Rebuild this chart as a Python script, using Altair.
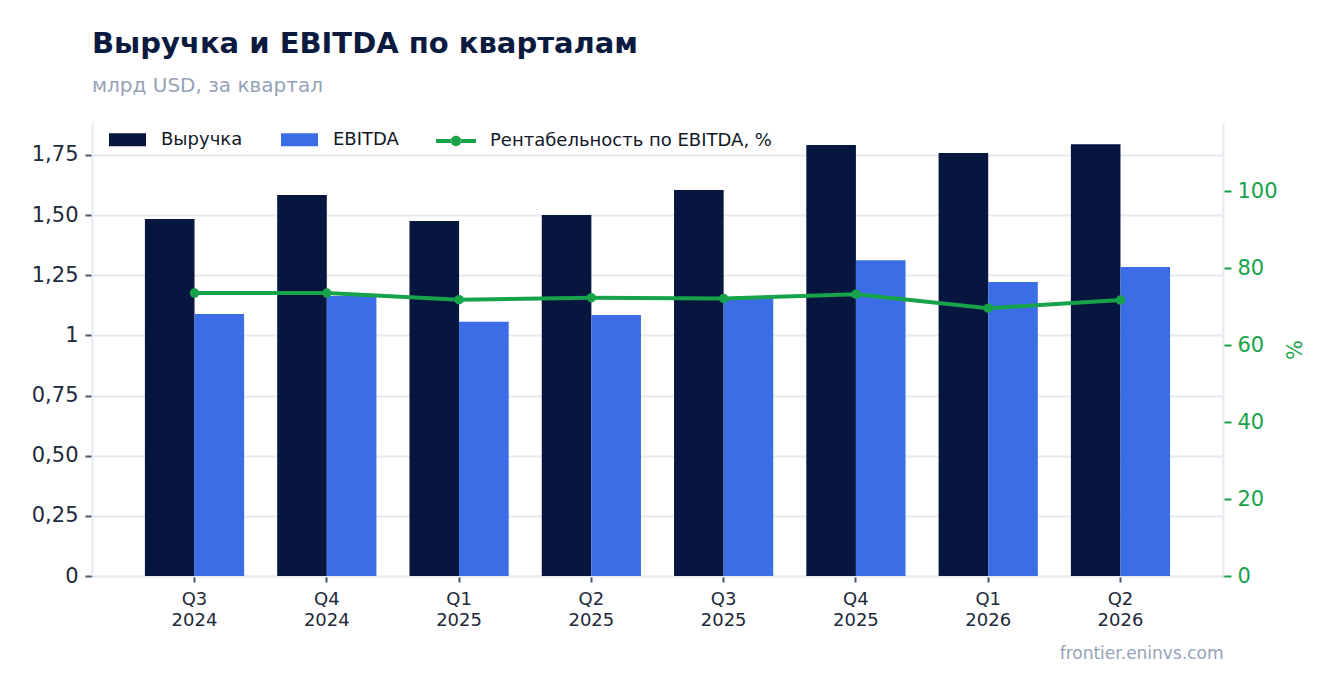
import altair as alt
import pandas as pd

quarters = ["Q3 2024", "Q4 2024", "Q1 2025", "Q2 2025", "Q3 2025", "Q4 2025", "Q1 2026", "Q2 2026"]
revenue = [1.484, 1.584, 1.476, 1.501, 1.605, 1.792, 1.758, 1.795]
ebitda = [1.089, 1.164, 1.057, 1.085, 1.157, 1.313, 1.222, 1.284]
margin = [73.5, 73.5, 71.8, 72.3, 72.1, 73.2, 69.6, 71.7]
series_names = ["Выручка", "EBITDA"]
line_name = "Рентабельность по EBITDA, %"
left_ticks = [0, 0.25, 0.5, 0.75, 1, 1.25, 1.5, 1.75]
right_ticks = [0, 20, 40, 60, 80, 100]

bars_df = pd.DataFrame({
    "quarter": quarters * 2,
    "series": [series_names[0]] * len(quarters) + [series_names[1]] * len(quarters),
    "value": revenue + ebitda,
})
line_df = pd.DataFrame({"quarter": quarters, "margin": margin, "series": [line_name] * len(quarters)})

NAVY = "#06163f"
BLUE = "#3b6de6"
GREEN = "#16a34a"
GRID = "#e5e9f0"
TEXT = "#1e293b"
MUTED = "#94a3b8"

x_enc = alt.X(
    "quarter:N",
    sort=quarters,
    scale=alt.Scale(paddingInner=0.25, paddingOuter=0.4),
    axis=alt.Axis(
        title="frontier.eninvs.com",
        titleAnchor="end",
        titleAlign="right",
        titleColor=MUTED,
        titleFontSize=17,
        titleFontWeight="normal",
        titlePadding=16,
        labelExpr="split(datum.label, ' ')",
        labelAngle=0,
        labelFontSize=18,
        labelColor=TEXT,
        labelLineHeight=21,
        labelPadding=8,
        tickColor="#475569",
        tickSize=6,
        tickWidth=2,
        domainColor=GRID,
        domainWidth=2,
        grid=False,
    ),
)

rect_path = "M-1,-0.35H1V0.35H-1Z"
line_path = ("M-1,-0.1H-0.24V0.1H-1Z M0.24,-0.1H1V0.1H0.24Z "
             "M-0.26,0A0.26,0.26 0 1,0 0.26,0A0.26,0.26 0 1,0 -0.26,0Z")

bars = alt.Chart(bars_df).mark_bar().encode(
    x=x_enc,
    xOffset=alt.XOffset("series:N", sort=series_names, scale=alt.Scale(paddingInner=0, paddingOuter=0)),
    y=alt.Y(
        "value:Q",
        scale=alt.Scale(domain=[0, 1.883], nice=False, zero=True),
        axis=alt.Axis(
            title=None,
            values=left_ticks,
            labelExpr="datum.value == 0 ? '0' : datum.value == 1 ? '1' : replace(format(datum.value, '.2f'), '.', ',')",
            labelFontSize=21,
            labelColor=TEXT,
            labelPadding=7,
            tickColor="#475569",
            tickSize=7,
            tickWidth=2,
            domainColor=GRID,
            domainWidth=2,
            gridColor=GRID,
            gridWidth=2,
        ),
    ),
    color=alt.Color(
        "series:N",
        sort=series_names,
        scale=alt.Scale(domain=series_names, range=[NAVY, BLUE]),
        legend=alt.Legend(
            orient="none", legendX=17, legendY=-2, direction="horizontal", title=None,
            symbolType=rect_path, symbolSize=1369, symbolStrokeWidth=0,
            labelFontSize=18, labelColor="#111827", labelOffset=15, columnPadding=38,
            labelLimit=500,
        ),
    ),
)

y_right = alt.Y(
    "margin:Q",
    scale=alt.Scale(domain=[0, 117.7], nice=False),
    axis=alt.Axis(
        orient="right",
        title="%",
        titleColor=GREEN,
        titleFontSize=21,
        titleFontWeight="normal",
        titlePadding=4,
        values=right_ticks,
        labelFontSize=21,
        labelColor=GREEN,
        labelPadding=6,
        tickColor=GREEN,
        tickSize=8,
        tickWidth=2,
        domainColor=GRID,
        domainWidth=2,
        grid=False,
    ),
)

line = alt.Chart(line_df).mark_line(strokeWidth=4, color=GREEN).encode(
    x=alt.X("quarter:N", sort=quarters),
    y=y_right,
)
points = alt.Chart(line_df).mark_circle(size=90, opacity=1).encode(
    x=alt.X("quarter:N", sort=quarters),
    y=y_right,
    color=alt.Color(
        "series:N",
        scale=alt.Scale(domain=[line_name], range=[GREEN]),
        legend=alt.Legend(
            orient="none", legendX=344, legendY=-2, direction="horizontal", title=None,
            symbolType=line_path, symbolSize=1600, symbolStrokeWidth=0, symbolOpacity=1,
            labelFontSize=18, labelColor="#111827", labelOffset=14, labelLimit=600,
        ),
    ),
)

chart = alt.layer(bars, alt.layer(line, points)).resolve_scale(
    y="independent", color="independent"
).properties(
    width=1131,
    height=453,
    autosize=alt.AutoSizeParams(type="none"),
    padding={"left": 84, "top": 115, "right": 105, "bottom": 100},
    title=alt.Title(
        "Выручка и EBITDA по кварталам",
        subtitle="млрд USD, за квартал",
        anchor="start",
        frame="group",
        fontSize=29,
        fontWeight="bold",
        color="#0b1a3f",
        subtitleFontSize=20,
        subtitleColor=MUTED,
        subtitlePadding=17,
        offset=25,
    ),
).configure(
    font="DejaVu Sans",
).configure_view(stroke=None)

chart.save("out.html", embed_options={"renderer": "svg", "actions": False})
